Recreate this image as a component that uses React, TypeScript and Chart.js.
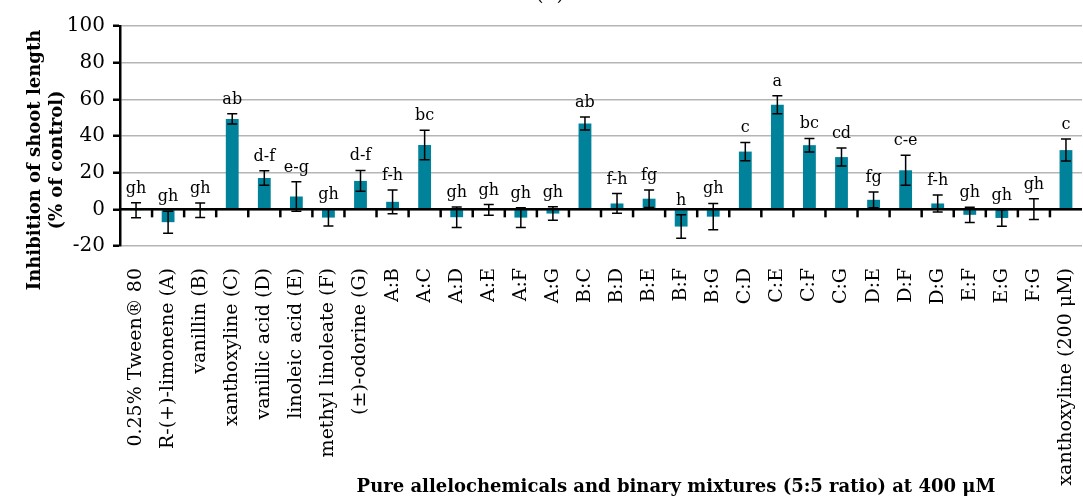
import React, { useEffect, useRef } from 'react';
import { Chart, registerables } from 'chart.js';

Chart.register(...registerables);

const categories = [
  '0.25% Tween® 80', 'R-(+)-limonene (A)', 'vanillin (B)', 'xanthoxyline (C)', 'vanillic acid (D)',
  'linoleic acid (E)', 'methyl linoleate (F)', '(±)-odorine (G)', 'A:B', 'A:C', 'A:D', 'A:E', 'A:F',
  'A:G', 'B:C', 'B:D', 'B:E', 'B:F', 'B:G', 'C:D', 'C:E', 'C:F', 'C:G', 'D:E', 'D:F', 'D:G', 'E:F',
  'E:G', 'F:G', 'xanthoxyline (200 μM)',
];

const values = [
  -0.5, -7, -0.5, 49.3, 17.1, 7, -4.5, 15.5, 4.1, 35.1, -4.3, -0.3, -4.5, -2.3, 46.8,
  3.2, 5.8, -9.4, -4, 31.5, 57, 35, 28.5, 5.2, 21.3, 3.2, -3, -4.7, 0.1, 32.3,
];

const errors = [
  4.1, 6, 3.9, 2.8, 4, 8, 4.6, 5.7, 6.5, 8.1, 5.6, 2.9, 5.4, 3.7, 3.5,
  5.4, 4.8, 6.4, 7.2, 5, 4.9, 3.7, 4.9, 4.3, 8.2, 4.6, 4.2, 4.5, 5.7, 6,
];

const letters = [
  'gh', 'gh', 'gh', 'ab', 'd-f', 'e-g', 'gh', 'd-f', 'f-h', 'bc', 'gh', 'gh', 'gh', 'gh', 'ab',
  'f-h', 'fg', 'h', 'gh', 'c', 'a', 'bc', 'cd', 'fg', 'c-e', 'f-h', 'gh', 'gh', 'gh', 'c',
];

const yMin = -20;
const yMax = 100;
const yStep = 20;

const yTitle = ['Inhibition of shoot length', '(% of control)'];
const xTitle = 'Pure allelochemicals and binary mixtures (5:5 ratio) at 400 μM';
const panelTitle = '(b)';

const FONT = '"DejaVu Serif", serif';

export default function App() {
  const ref = useRef<HTMLCanvasElement>(null);

  useEffect(() => {
    document.body.style.margin = '0';
    if (!ref.current) return;

    const overlay = {
      id: 'overlay',
      afterDatasetsDraw(chart: any) {
        const { ctx, chartArea, scales } = chart;
        const x = scales.x;
        const y = scales.y;
        ctx.save();
        const y0 = y.getPixelForValue(0);
        ctx.strokeStyle = '#000';
        ctx.lineWidth = 2.5;
        ctx.beginPath();
        ctx.moveTo(chartArea.left, y0);
        ctx.lineTo(chartArea.right, y0);
        ctx.stroke();
        for (let i = 1; i < categories.length; i++) {
          const px = (x.getPixelForValue(i - 1) + x.getPixelForValue(i)) / 2;
          ctx.beginPath();
          ctx.moveTo(px, y0);
          ctx.lineTo(px, y0 + 8);
          ctx.stroke();
        }
        ctx.lineWidth = 1.5;
        const cap = 5;
        values.forEach((v, i) => {
          const px = x.getPixelForValue(i);
          const t = y.getPixelForValue(v + errors[i]);
          const b = y.getPixelForValue(v - errors[i]);
          ctx.beginPath();
          ctx.moveTo(px, t);
          ctx.lineTo(px, b);
          ctx.moveTo(px - cap, t);
          ctx.lineTo(px + cap, t);
          ctx.moveTo(px - cap, b);
          ctx.lineTo(px + cap, b);
          ctx.stroke();
        });
        ctx.fillStyle = '#000';
        ctx.font = `16px ${FONT}`;
        ctx.textAlign = 'center';
        ctx.textBaseline = 'alphabetic';
        letters.forEach((l, i) => {
          const px = x.getPixelForValue(i);
          const t = y.getPixelForValue(values[i] + errors[i]);
          ctx.fillText(l, px, t - 10);
        });
        ctx.restore();
      },
      afterDraw(chart: any) {
        const { ctx } = chart;
        ctx.save();
        ctx.fillStyle = '#000';
        ctx.font = `bold 18px ${FONT}`;
        ctx.textAlign = 'center';
        ctx.textBaseline = 'middle';
        ctx.save();
        ctx.translate(35, 160);
        ctx.rotate(-Math.PI / 2);
        ctx.fillText(yTitle[0], 0, 0);
        ctx.fillText(yTitle[1], 0, 22);
        ctx.restore();
        ctx.font = `bold 18px ${FONT}`;
        ctx.textBaseline = 'alphabetic';
        ctx.fillText(xTitle, 676, 492);
        ctx.font = `20px ${FONT}`;
        ctx.fillText(panelTitle, 550, 0);
        ctx.restore();
      },
    };

    const chart = new Chart(ref.current, {
      type: 'bar',
      data: {
        labels: categories,
        datasets: [
          {
            data: values,
            backgroundColor: '#00829a',
            borderWidth: 0,
            barPercentage: 0.4,
            categoryPercentage: 1,
          },
        ],
      },
      options: {
        responsive: false,
        animation: false,
        devicePixelRatio: 1,
        layout: { padding: { top: 26, right: 1, left: 0, bottom: 0 } },
        plugins: {
          legend: { display: false },
          tooltip: { enabled: false },
          title: { display: false },
        },
        scales: {
          x: {
            offset: true,
            grid: { display: false },
            border: { display: false },
            ticks: {
              autoSkip: false,
              minRotation: 90,
              maxRotation: 90,
              padding: 14,
              color: '#000',
              font: { family: FONT, size: 19 },
            },
            afterFit: (s: any) => {
              s.height = 254;
              s.paddingLeft = 0;
              s.paddingRight = 0;
            },
          },
          y: {
            min: yMin,
            max: yMax,
            ticks: {
              stepSize: yStep,
              padding: 8,
              color: '#000',
              font: { family: FONT, size: 20 },
            },
            grid: {
              color: '#b5b5b5',
              lineWidth: 1.5,
              tickColor: '#000',
              tickLength: 7,
              tickWidth: 2.5,
            },
            border: { color: '#000', width: 2.5 },
            afterFit: (s: any) => {
              s.width = 120;
            },
          },
        },
      },
      plugins: [overlay],
    });

    return () => chart.destroy();
  }, []);

  return (
    <div style={{ width: 1083, height: 500 }}>
      <canvas ref={ref} width={1083} height={500} />
    </div>
  );
}
